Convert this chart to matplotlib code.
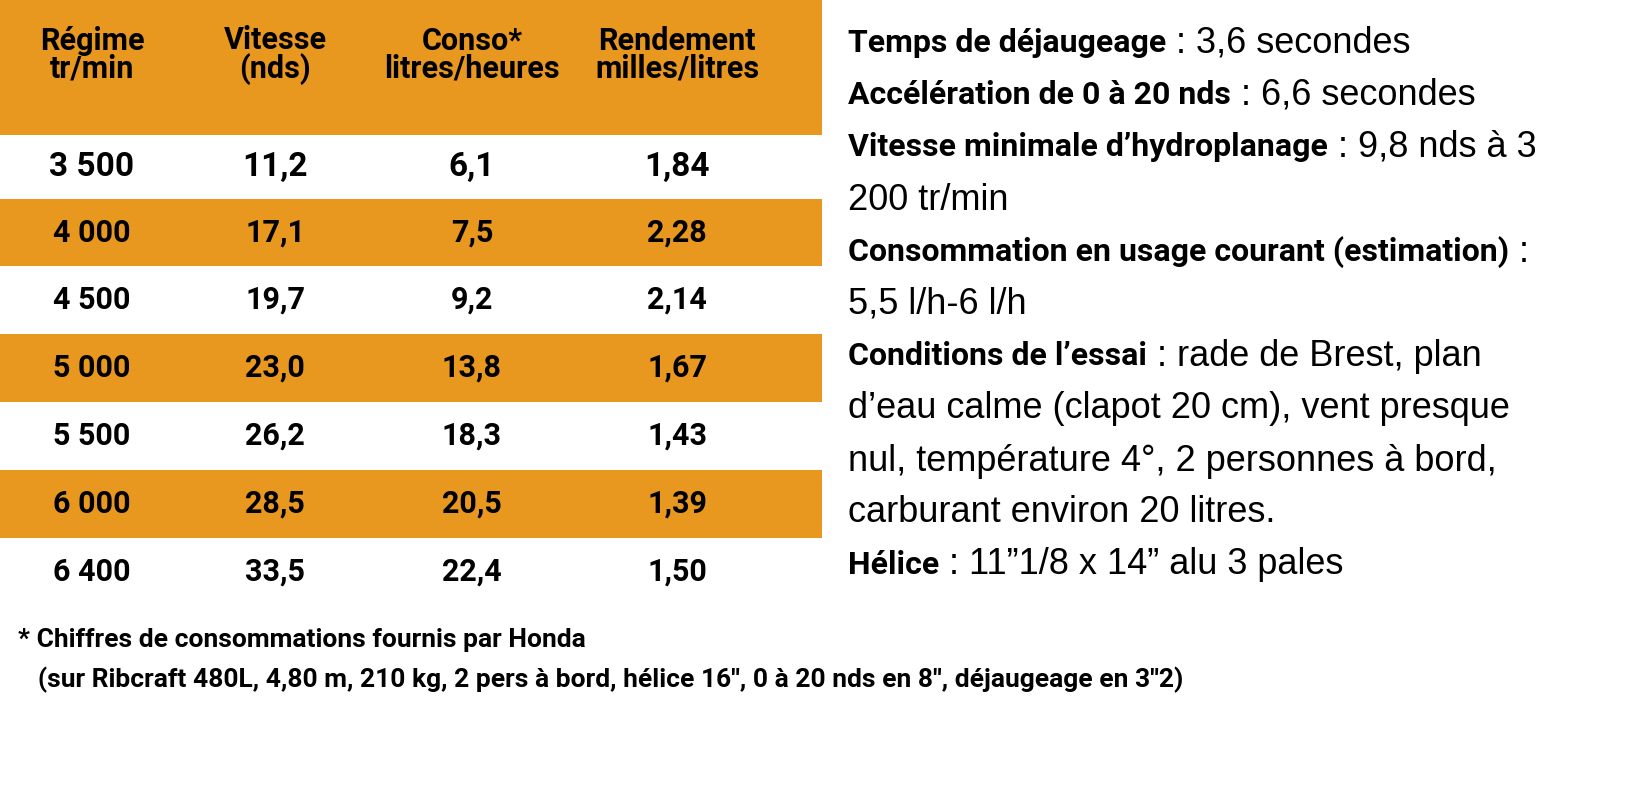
import matplotlib
matplotlib.use("Agg")
import matplotlib.pyplot as plt
from matplotlib.patches import Rectangle

headers = ["Régime\ntr/min", "Vitesse\n(nds)", "Conso*\nlitres/heures", "Rendement\nmilles/litres"]
regime = ["3 500", "4 000", "4 500", "5 000", "5 500", "6 000", "6 400"]
vitesse = ["11,2", "17,1", "19,7", "23,0", "26,2", "28,5", "33,5"]
conso = ["6,1", "7,5", "9,2", "13,8", "18,3", "20,5", "22,4"]
rendement = ["1,84", "2,28", "2,14", "1,67", "1,43", "1,39", "1,50"]
right_lines = [
    ("Temps de déjaugeage", " : 3,6 secondes"),
    ("Accélération de 0 à 20 nds", " : 6,6 secondes"),
    ("Vitesse minimale d’hydroplanage", " : 9,8 nds à 3"),
    ("", "200 tr/min"),
    ("Consommation en usage courant (estimation)", " :"),
    ("", "5,5 l/h-6 l/h"),
    ("Conditions de l’essai", " : rade de Brest, plan"),
    ("", "d’eau calme (clapot 20 cm), vent presque"),
    ("", "nul, température 4°, 2 personnes à bord,"),
    ("", "carburant environ 20 litres."),
    ("Hélice", " : 11”1/8 x 14” alu 3 pales"),
]
footnote = ["* Chiffres de consommations fournis par Honda",
            "   (sur Ribcraft 480L, 4,80 m, 210 kg, 2 pers à bord, hélice 16'', 0 à 20 nds en 8'', déjaugeage en 3''2)"]

ORANGE = "#E8971F"
COND = ["Roboto", "DejaVu Sans"]
REG = ["Liberation Sans", "DejaVu Sans"]
fig = plt.figure(figsize=(16.51, 7.88), dpi=100)
ax = fig.add_axes([0, 0, 1, 1])
ax.set_xlim(0, 1651); ax.set_ylim(788, 0); ax.axis("off")

ax.add_patch(Rectangle((0, 0), 822, 135, color=ORANGE, lw=0))
row_edges = [135, 199, 266, 334, 402, 470, 538, 606]
for i in range(7):
    y0, y1 = row_edges[i], row_edges[i + 1]
    if i % 2 == 1:
        ax.add_patch(Rectangle((0, y0), 822, y1 - y0, color=ORANGE, lw=0))
cols = [92, 275, 472, 677]
for x, h in zip(cols, headers):
    ax.text(x, 55, h, ha="center", va="center", fontsize=22, fontweight="bold",
            family=COND, linespacing=0.9)
for i, vals in enumerate(zip(regime, vitesse, conso, rendement)):
    yc = (row_edges[i] + row_edges[i + 1]) / 2
    for x, v in zip(cols, vals):
        ax.text(x, yc, v, ha="center", va="center", fontsize=22 if i else 24,
                fontweight="bold", family=COND)

fig.canvas.draw()
r = fig.canvas.get_renderer()
ys = [43, 95, 147, 200, 252, 304, 356, 408, 461, 513, 565]
for (b, n), y in zip(right_lines, ys):
    if b:
        t = ax.text(848, y, b, ha="left", va="center", fontsize=23, fontweight="bold", family=COND)
        bb = t.get_window_extent(r)
        ax.text(bb.x1, 788 - y, n, ha="left", va="center", fontsize=26,
                family=REG, transform=None)
    else:
        ax.text(848, y, n, ha="left", va="center", fontsize=26, family=REG)

ax.text(18, 640, footnote[0], ha="left", va="center", fontsize=19, fontweight="bold", family=COND)
ax.text(18, 680, footnote[1], ha="left", va="center", fontsize=19, fontweight="bold", family=COND)
fig.savefig("out.png", dpi=100, facecolor="white")
